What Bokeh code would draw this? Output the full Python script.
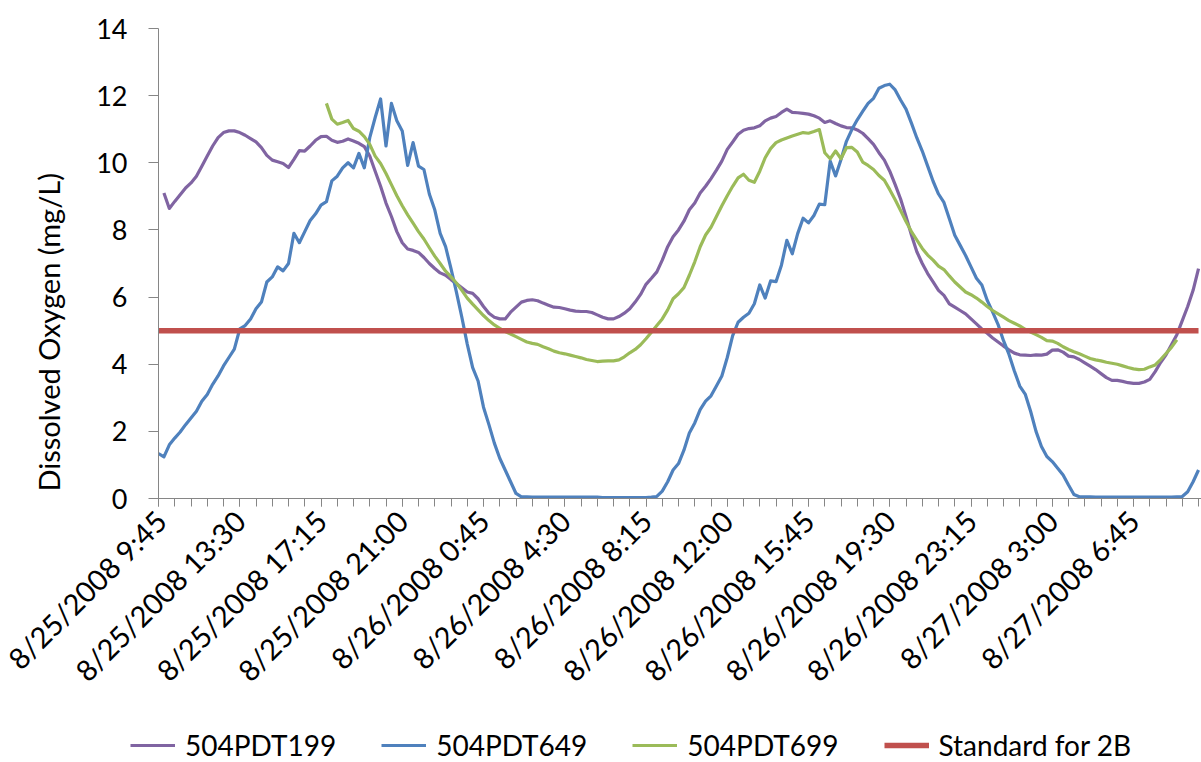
import math
from bokeh.plotting import figure
from bokeh.layouts import column
from bokeh.models import FixedTicker, Legend, LegendItem, Title, Range1d
from bokeh.embed import file_html
from bokeh.resources import INLINE

# ---------------- data ----------------
tick_labels = ["8/25/2008 9:45", "8/25/2008 13:30", "8/25/2008 17:15", "8/25/2008 21:00",
               "8/26/2008 0:45", "8/26/2008 4:30", "8/26/2008 8:15", "8/26/2008 12:00",
               "8/26/2008 15:45", "8/26/2008 19:30", "8/26/2008 23:15", "8/27/2008 3:00",
               "8/27/2008 6:45"]
n_points = 193          # 15-minute readings, 8/25/2008 9:45 .. 8/27/2008 9:45
label_every = 15
tick_every = 3

# 504PDT199 (starts at reading 1)
pdt199_start = 1
pdt199 = [9.1, 8.64, 8.85, 9.05, 9.25, 9.4, 9.6, 9.9, 10.2, 10.5,
          10.75, 10.9, 10.95, 10.95, 10.9, 10.82, 10.72, 10.62, 10.45, 10.22,
          10.08, 10.03, 9.98, 9.86, 10.1, 10.36, 10.35, 10.5, 10.67, 10.78,
          10.79, 10.67, 10.61, 10.64, 10.71, 10.65, 10.58, 10.48, 10.2, 9.75,
          9.3, 8.8, 8.4, 7.95, 7.62, 7.43, 7.39, 7.33, 7.18, 7.0,
          6.85, 6.72, 6.65, 6.52, 6.4, 6.28, 6.15, 6.11, 5.95, 5.72,
          5.52, 5.4, 5.35, 5.35, 5.55, 5.7, 5.85, 5.9, 5.92, 5.89,
          5.82, 5.76, 5.7, 5.69, 5.65, 5.61, 5.58, 5.57, 5.57, 5.54,
          5.47, 5.4, 5.35, 5.35, 5.42, 5.52, 5.65, 5.85, 6.08, 6.38,
          6.56, 6.75, 7.1, 7.5, 7.8, 8.0, 8.26, 8.6, 8.8, 9.1,
          9.3, 9.53, 9.78, 10.05, 10.4, 10.62, 10.85, 10.97, 11.02, 11.04,
          11.1, 11.25, 11.33, 11.38, 11.5, 11.6, 11.5, 11.49, 11.47, 11.45,
          11.4, 11.33, 11.2, 11.25, 11.17, 11.1, 11.05, 11.04, 10.98, 10.88,
          10.72, 10.55, 10.3, 10.08, 9.75, 9.35, 8.92, 8.4, 7.85, 7.35,
          7.0, 6.7, 6.45, 6.2, 6.05, 5.8, 5.7, 5.6, 5.5, 5.35,
          5.2, 5.05, 4.92, 4.78, 4.66, 4.54, 4.43, 4.33, 4.28, 4.27,
          4.26, 4.28, 4.27, 4.3, 4.42, 4.43, 4.36, 4.24, 4.22, 4.14,
          4.04, 3.94, 3.84, 3.72, 3.6, 3.52, 3.52, 3.49, 3.45, 3.43,
          3.43, 3.47, 3.55, 3.78, 4.05, 4.28, 4.58, 4.88, 5.3, 5.72,
          6.2, 6.85]

# 504PDT649 (starts at reading 0)
pdt649_start = 0
pdt649 = [1.34, 1.24, 1.6, 1.8, 1.98, 2.2, 2.4, 2.6, 2.9, 3.1,
          3.4, 3.65, 3.95, 4.2, 4.45, 5.05, 5.15, 5.35, 5.65, 5.85,
          6.45, 6.6, 6.9, 6.78, 7.0, 7.9, 7.62, 7.95, 8.28, 8.48,
          8.74, 8.84, 9.46, 9.6, 9.85, 10.0, 9.85, 10.28, 9.85, 10.75,
          11.35, 11.9, 10.5, 11.77, 11.25, 10.95, 9.92, 10.6, 9.9, 9.8,
          9.07, 8.6, 7.9, 7.5, 6.85, 6.15, 5.4, 4.6, 3.9, 3.5,
          2.72, 2.2, 1.65, 1.2, 0.85, 0.5, 0.15, 0.05, 0.05, 0.04,
          0.04, 0.04, 0.04, 0.04, 0.04, 0.04, 0.04, 0.04, 0.04, 0.04,
          0.04, 0.04, 0.03, 0.03, 0.03, 0.03, 0.03, 0.03, 0.03, 0.03,
          0.03, 0.04, 0.06, 0.22, 0.5, 0.85, 1.04, 1.44, 1.95, 2.25,
          2.65, 2.9, 3.06, 3.35, 3.65, 4.2, 4.85, 5.25, 5.4, 5.52,
          5.8, 6.36, 5.97, 6.48, 6.46, 6.95, 7.69, 7.29, 7.89, 8.35,
          8.21, 8.43, 8.77, 8.75, 10.05, 9.61, 10.1, 10.64, 10.99, 11.28,
          11.53, 11.77, 11.92, 12.22, 12.3, 12.34, 12.17, 11.87, 11.6, 11.18,
          10.74, 10.35, 9.9, 9.45, 9.07, 8.82, 8.33, 7.84, 7.54, 7.24,
          6.9, 6.56, 6.36, 5.9, 5.55, 5.18, 4.7, 4.3, 3.8, 3.35,
          3.11, 2.6, 2.0, 1.55, 1.25, 1.1, 0.9, 0.7, 0.4, 0.12,
          0.05, 0.05, 0.05, 0.04, 0.04, 0.04, 0.04, 0.04, 0.04, 0.04,
          0.04, 0.04, 0.04, 0.04, 0.04, 0.04, 0.04, 0.04, 0.05, 0.06,
          0.2, 0.5, 0.85]

# 504PDT699 (starts at reading 31)
pdt699_start = 31
pdt699 = [11.77, 11.3, 11.15, 11.2, 11.26, 11.02, 10.94, 10.78, 10.55, 10.2,
          9.98, 9.68, 9.35, 9.02, 8.72, 8.45, 8.2, 7.95, 7.73, 7.47,
          7.22, 7.0, 6.77, 6.6, 6.42, 6.2, 5.97, 5.79, 5.62, 5.45,
          5.3, 5.17, 5.07, 4.97, 4.9, 4.82, 4.74, 4.66, 4.62, 4.59,
          4.52, 4.46, 4.39, 4.34, 4.31, 4.27, 4.23, 4.19, 4.14, 4.11,
          4.08, 4.09, 4.1, 4.1, 4.13, 4.22, 4.34, 4.44, 4.58, 4.76,
          4.95, 5.15, 5.35, 5.62, 5.95, 6.1, 6.28, 6.65, 7.05, 7.5,
          7.85, 8.08, 8.4, 8.72, 9.02, 9.3, 9.55, 9.66, 9.48, 9.42,
          9.75, 10.15, 10.42, 10.6, 10.68, 10.74, 10.8, 10.85, 10.9, 10.88,
          10.93, 10.99, 10.3, 10.12, 10.35, 10.12, 10.45, 10.46, 10.32, 10.02,
          9.92, 9.8, 9.62, 9.48, 9.2, 8.9, 8.58, 8.25, 7.95, 7.7,
          7.45, 7.25, 7.1, 6.92, 6.82, 6.63, 6.45, 6.3, 6.15, 6.07,
          5.97, 5.85, 5.72, 5.6, 5.5, 5.4, 5.3, 5.22, 5.14, 5.04,
          4.96, 4.88, 4.8, 4.7, 4.69, 4.62, 4.52, 4.44, 4.37, 4.31,
          4.24, 4.17, 4.13, 4.1, 4.06, 4.03, 4.0, 3.95, 3.9, 3.86,
          3.84, 3.85, 3.92, 3.98, 4.14, 4.32, 4.5, 4.73]

standard_2b = 5.0
y_ticks = [0, 2, 4, 6, 8, 10, 12, 14]
series_names = ["504PDT199", "504PDT649", "504PDT699", "Standard for 2B"]
series_colors = ["#8064A2", "#4F81BD", "#9BBB59", "#C0504D"]
series_widths = [3.2, 3.2, 3.2, 5.5]

x199 = list(range(pdt199_start, pdt199_start + len(pdt199)))
x649 = list(range(pdt649_start, pdt649_start + len(pdt649)))
x699 = list(range(pdt699_start, pdt699_start + len(pdt699)))
xstd = list(range(n_points))
ystd = [standard_2b] * n_points
all_x = [x199, x649, x699, xstd]
all_y = [pdt199, pdt649, pdt699, ystd]

# ---------------- main figure ----------------
FONT = "Lato"
W = 1201
p = figure(width=W, height=702, output_backend="svg", toolbar_location=None,
           x_range=Range1d(0, 192.55), y_range=Range1d(0, 14),
           min_border_left=157, min_border_top=28, min_border_right=0,
           min_border_bottom=200, frame_align=False)
p.outline_line_color = None
p.xgrid.visible = False
p.ygrid.visible = False

for xs, ys, c, w in zip(all_x, all_y, series_colors, series_widths):
    p.line(xs, ys, line_color=c, line_width=w, line_join="round")

label_idx = list(range(0, n_points, label_every))[:len(tick_labels)]
p.xaxis.ticker = FixedTicker(ticks=label_idx, minor_ticks=list(range(0, n_points, tick_every)))
p.xaxis.major_label_overrides = {i: t for i, t in zip(label_idx, tick_labels)}
p.xaxis.major_label_orientation = math.pi / 4
p.xaxis.major_tick_in = 0
p.xaxis.major_tick_out = 8
p.xaxis.minor_tick_in = 0
p.xaxis.minor_tick_out = 8
p.xaxis.axis_line_color = "#868686"
p.xaxis.major_tick_line_color = "#868686"
p.xaxis.minor_tick_line_color = "#868686"
p.xaxis.major_label_text_font = FONT
p.xaxis.major_label_text_font_size = "29px"
p.xaxis.major_label_text_color = "black"
p.xaxis.major_label_standoff = 9

p.yaxis.ticker = FixedTicker(ticks=y_ticks)
p.yaxis.major_tick_in = 0
p.yaxis.major_tick_out = 10
p.yaxis.minor_tick_line_color = None
p.yaxis.axis_line_color = "#868686"
p.yaxis.major_tick_line_color = "#868686"
p.yaxis.major_label_text_font = FONT
p.yaxis.major_label_text_font_size = "27px"
p.yaxis.major_label_text_color = "black"
p.yaxis.major_label_standoff = 21

ytitle = Title(text="Dissolved Oxygen (mg/L)", align="left", offset=7,
               text_font=FONT, text_font_size="29px", text_font_style="normal",
               text_color="black", standoff=56)
p.add_layout(ytitle, "left")

# ---------------- legend strip (series drawn off-range; only the legend shows) ----------------
pl = figure(width=W, height=60, output_backend="svg", toolbar_location=None,
            x_range=Range1d(0, 192.55), y_range=Range1d(100, 101),
            x_axis_location=None, y_axis_location=None,
            min_border_left=0, min_border_right=0, min_border_top=0, min_border_bottom=0,
            frame_align=False)
pl.outline_line_color = None
pl.grid.visible = False
items = []
for name, xs, ys, c, w in zip(series_names, all_x, all_y, series_colors, series_widths):
    r = pl.line(xs, ys, line_color=c, line_width=w)
    items.append(LegendItem(label=name, renderers=[r]))
legend = Legend(items=items, orientation="horizontal", location=(130, 0),
                label_text_font=FONT, label_text_font_size="28px",
                label_text_color="black",
                glyph_width=45, label_standoff=10, spacing=45,
                padding=0, margin=0, border_line_color=None,
                background_fill_alpha=0)
pl.add_layout(legend, "center")

layout = column(p, pl, spacing=0)
open("out.html", "w").write(file_html(layout, INLINE))
